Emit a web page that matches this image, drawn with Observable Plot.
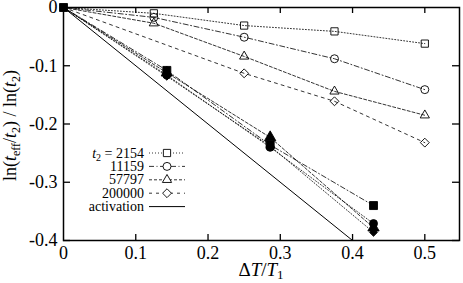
<!DOCTYPE html>
<html><head><meta charset="utf-8">
<script src="https://cdn.jsdelivr.net/npm/d3@7"></script>
<script src="https://cdn.jsdelivr.net/npm/@observablehq/plot@0.6"></script>
<style>
body{margin:0;background:#fff}
svg{display:block}
#chart svg, #chart svg text{font-family:"Liberation Serif","Times New Roman",serif !important;}
</style>
</head><body><div id="chart"></div>
<script>
// ---- data ----
const xTicks = [0, 0.1, 0.2, 0.3, 0.4, 0.5];
const yTicks = [0, -0.1, -0.2, -0.3, -0.4];
const xOpen = [0, 0.125, 0.25, 0.375, 0.5];
const open2154   = [0, -0.010, -0.031, -0.041, -0.062];
const open11159  = [0, -0.017, -0.051, -0.088, -0.141];
const open57797  = [0, -0.027, -0.084, -0.144, -0.185];
const open200000 = [0, null, -0.113, -0.161, -0.232];
const xFilled = [0, 0.143, 0.286, 0.429];
const filled2154   = [0, -0.108, -0.236, -0.340];
const filled11159  = [0, -0.116, -0.240, -0.371];
const filled57797  = [0, -0.112, -0.223, -0.378];
const filled200000 = [0, -0.118, -0.238, -0.386];
const xActivation = [0, 0.4];
const yActivation = [0, -0.4];
const legendLabels = ["2154", "11159", "57797", "200000", "activation"];

// ---- layout ----
const W = 463, H = 283, mL = 63, mR = 4, mT = 7, mB = 43;
const plotH = H - mT - mB, plotW = W - mL - mR;
const font = "Liberation Serif";

const series = [
  {x: xOpen, y: open2154, symbol: "square2", fill: "none", dash: "1,2", r: 4.6},
  {x: xOpen, y: open11159, symbol: "circle", fill: "none", dash: "5,2.5,1,2.5", r: 4},
  {x: xOpen, y: open57797, symbol: "triangle2", fill: "none", dash: "3,2", r: 4.4},
  {x: xOpen, y: open200000, symbol: "diamond2", fill: "none", dash: "3,4", r: 4},
  {x: xFilled, y: filled2154, symbol: "square", fill: "black", dash: "5,2.5,1,2.5", r: 4.5, origin: true},
  {x: xFilled, y: filled11159, symbol: "circle", fill: "black", dash: "1,2", r: 4},
  {x: xFilled, y: filled57797, symbol: "triangle", fill: "black", dash: "3,2", r: 4.2},
  {x: xFilled, y: filled200000, symbol: "diamond2", fill: "black", dash: "1,2", r: 3.6}
];
const rows = s => s.x.map((x, i) => ({x, y: s.y[i]})).filter(d => d.y != null);

const marks = [];
for (const s of series) {
  marks.push(Plot.line(rows(s), {x: "x", y: "y", stroke: "black", strokeWidth: 0.8, strokeDasharray: s.dash}));
}
marks.push(Plot.line(xActivation.map((x, i) => ({x, y: yActivation[i]})),
  {x: "x", y: "y", stroke: "black", strokeWidth: 1}));
for (const s of series) {
  const data = rows(s).filter(d => d.x > 0 || s.origin);
  marks.push(Plot.dot(data, {x: "x", y: "y", symbol: () => s.symbol, r: s.r,
    stroke: "black", strokeWidth: 0.9, fill: s.fill === "none" ? "white" : s.fill, fillOpacity: s.fill === "none" ? 0 : 1}));
}
// inward ticks on all four sides
marks.push(Plot.tickX(xTicks.slice(1), {x: d => d, stroke: "black", strokeWidth: 1.3, insetTop: plotH - 6}));
marks.push(Plot.tickX(xTicks.slice(1), {x: d => d, stroke: "black", strokeWidth: 1.3, insetBottom: plotH - 6}));
marks.push(Plot.tickY(yTicks.slice(1), {y: d => d, stroke: "black", strokeWidth: 1.3, insetRight: plotW - 7}));
marks.push(Plot.tickY(yTicks.slice(1), {y: d => d, stroke: "black", strokeWidth: 1.3, insetLeft: plotW - 7}));
marks.push(Plot.frame({stroke: "black", strokeWidth: 1.5}));
marks.push(Plot.axisX(xTicks, {tickSize: 0, tickPadding: 6, label: null, fontSize: 18, fontFamily: font,
  tickFormat: d => d === 0 ? "0" : d.toFixed(1)}));
marks.push(Plot.axisY(yTicks, {tickSize: 0, tickPadding: 6, label: null, fontSize: 18, fontFamily: font,
  tickFormat: d => d === 0 ? "0" : d.toFixed(1)}));

const chart = Plot.plot({
  width: W, height: H, marginLeft: mL, marginRight: mR, marginTop: mT, marginBottom: mB,
  x: {domain: [0, 0.548]},
  y: {domain: [-0.4, 0]},
  style: {fontFamily: font, color: "black", background: "white"},
  marks
});
document.getElementById("chart").appendChild(chart);

// ---- labels & legend ----
const svg = d3.select(chart);
const g = svg.append("g").attr("font-family", font).attr("fill", "black");

// x label: ΔT/T1
const xl = g.append("text").attr("x", mL + plotW / 2).attr("y", 276).attr("text-anchor", "middle").attr("font-size", 19);
xl.append("tspan").text("Δ");
xl.append("tspan").attr("font-style", "italic").text("T");
xl.append("tspan").text("/");
xl.append("tspan").attr("font-style", "italic").text("T");
xl.append("tspan").attr("font-size", 13).attr("dy", 3).text("1");

// y label
const yl = g.append("text").attr("transform", `translate(16,${mT + plotH / 2 + 2}) rotate(-90)`)
  .attr("text-anchor", "middle").attr("font-size", 18);
yl.append("tspan").text("ln(");
yl.append("tspan").attr("font-style", "italic").text("t");
yl.append("tspan").attr("font-size", 12).attr("dy", 4).text("eff");
yl.append("tspan").attr("dy", -4).text("/");
yl.append("tspan").attr("font-style", "italic").text("t");
yl.append("tspan").attr("font-size", 12).attr("dy", 4).text("2");
yl.append("tspan").attr("dy", -4).text(") / ln(");
yl.append("tspan").attr("font-style", "italic").text("t");
yl.append("tspan").attr("font-size", 12).attr("dy", 4).text("2");
yl.append("tspan").attr("dy", -4).text(")");

// legend
const lg = g.append("g");
const symMap = {square2: d3.symbolSquare2, circle: d3.symbolCircle, triangle2: d3.symbolTriangle2, diamond2: d3.symbolDiamond2};
legendLabels.forEach((lab, i) => {
  const y = 153 + i * 13.4;
  const t = lg.append("text").attr("x", 144).attr("y", y + 4.5).attr("text-anchor", "end").attr("font-size", 14);
  if (i === 0) {
    t.append("tspan").attr("font-style", "italic").text("t");
    t.append("tspan").attr("font-size", 10).attr("dy", 3).text("2");
    t.append("tspan").attr("dy", -3).text(" = " + lab);
  } else t.text(lab);
  const s = series[i];
  lg.append("line").attr("x1", 149).attr("x2", 185).attr("y1", y).attr("y2", y)
    .attr("stroke", "black").attr("stroke-width", i === 4 ? 1 : 0.8)
    .attr("stroke-dasharray", i === 4 ? null : s.dash);
  if (i < 4) {
    lg.append("path").attr("transform", `translate(167,${y})`)
      .attr("d", d3.symbol(symMap[s.symbol], s.r * s.r * Math.PI)())
      .attr("fill", "white").attr("stroke", "black").attr("stroke-width", 0.9);
  }
});
</script>
</body></html>
